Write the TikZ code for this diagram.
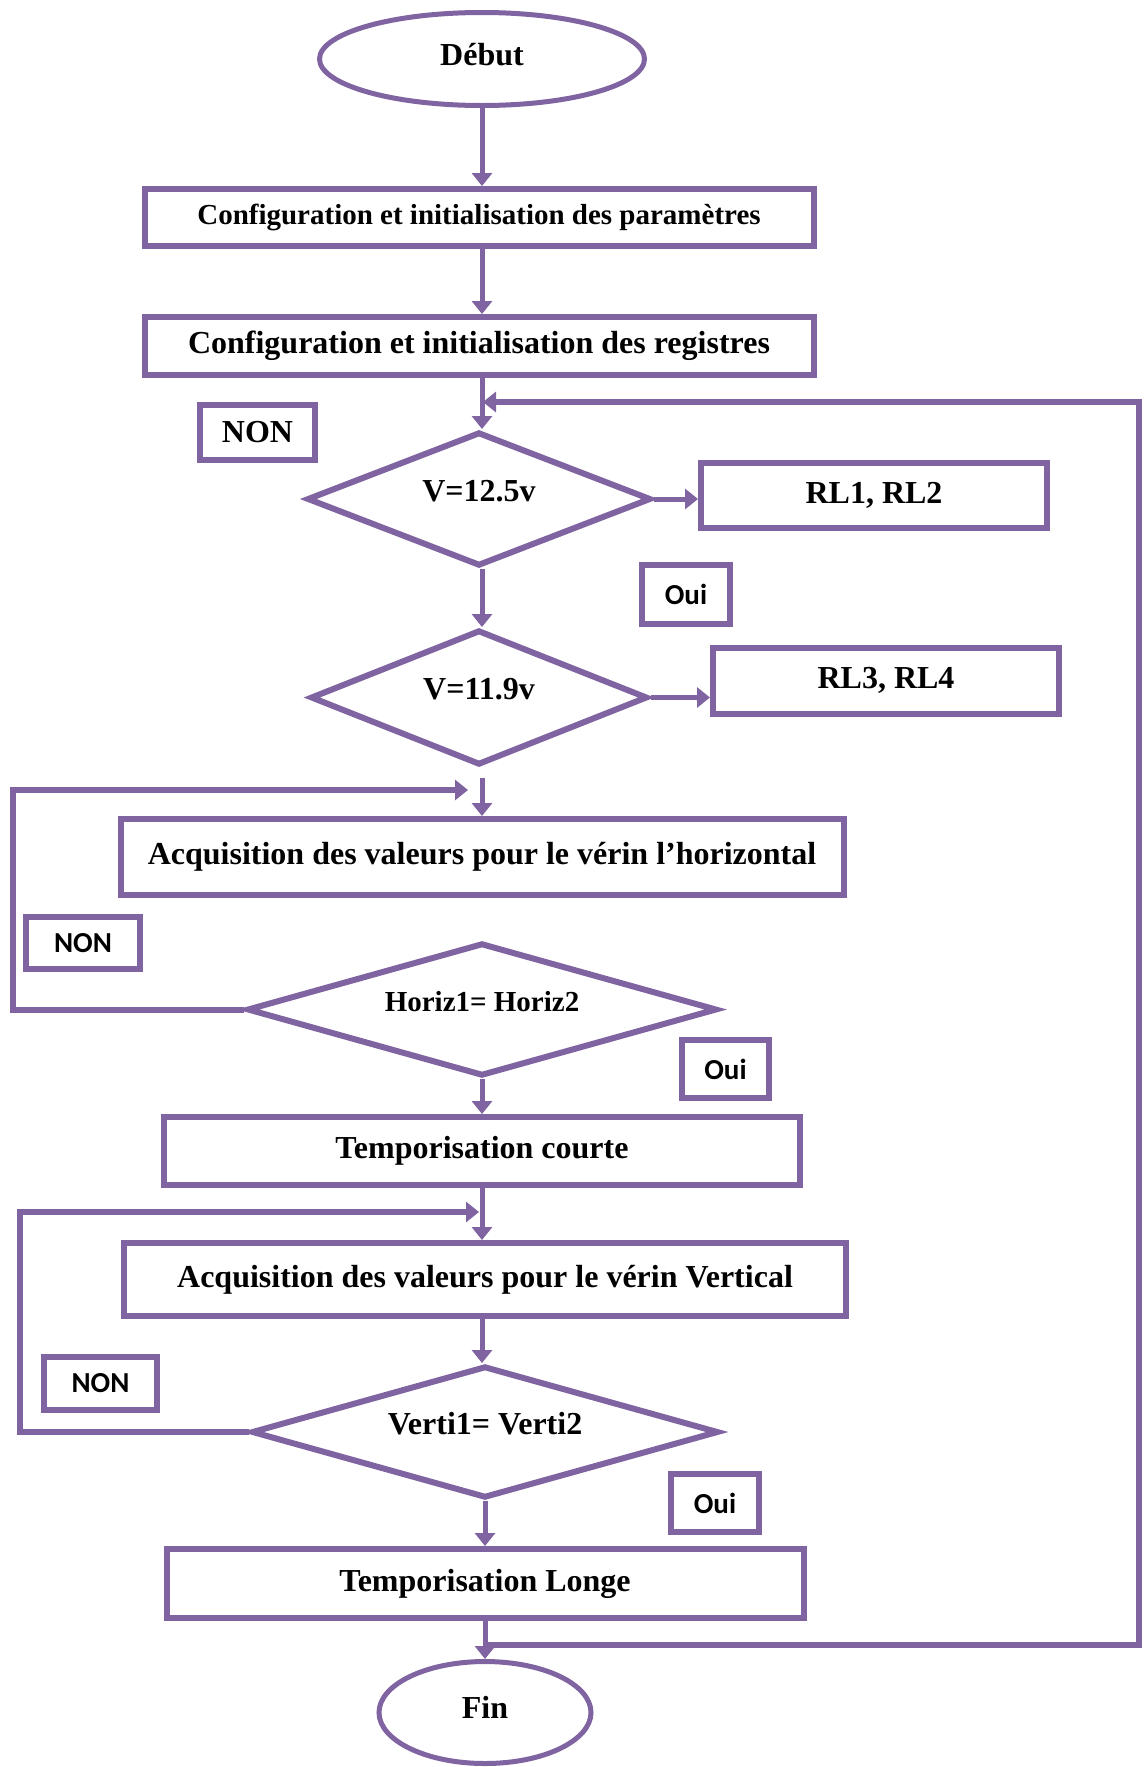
\documentclass[tikz,border=0pt]{standalone}
\usepackage{fontspec}
\setmainfont{Liberation Serif}
\newfontfamily\calibri{Carlito}
\usetikzlibrary{arrows.meta,positioning,shapes.geometric,calc}
\definecolor{FlowPurple}{HTML}{8064A2}

\begin{document}
\begin{tikzpicture}[
    x=1pt, y=1pt,
    box/.style={rectangle, draw=FlowPurple, fill=white, line width=3pt, inner sep=2pt, text centered, font=\fontsize{16}{19}\selectfont\bfseries},
    terminal/.style={ellipse, draw=FlowPurple, fill=white, line width=2.5pt, inner sep=0pt, text height=11pt, text depth=5pt, font=\fontsize{16}{19}\selectfont\bfseries},
    test/.style={diamond, draw=FlowPurple, fill=white, line width=3pt, inner sep=0pt, shape aspect=3, text height=11pt, text depth=9pt, font=\fontsize{16}{19}\selectfont\bfseries},
    tag/.style={rectangle, draw=FlowPurple, fill=white, line width=3pt, inner sep=0pt, font=\calibri\fontsize{14.5}{17}\selectfont\bfseries},
    arrow/.style={-{Triangle[length=6.5pt, width=10pt]}, line width=2.5pt, color=FlowPurple},
    retour/.style={-{Triangle[length=6.5pt, width=10pt]}, line width=3pt, color=FlowPurple}
]
\useasboundingbox (0,0) rectangle (572,-883.5);

% Main column
\node[terminal, minimum width=162.5pt, minimum height=46.5pt] (debut) at (241,-29.5) {Début};
\node[box, minimum width=334.5pt, minimum height=28.5pt, below=39pt of debut, xshift=-1.5pt, font=\fontsize{14.5}{17}\selectfont\bfseries] (param) {Configuration et initialisation des paramètres};
\node[box, minimum width=334.5pt, minimum height=29pt, below=32.5pt of param] (reg) {Configuration et initialisation des registres};
\node[test, minimum width=172pt, minimum height=67pt, below=25.5pt of reg] (v125) {V=12.5v};
\node[test, minimum width=168.5pt, minimum height=67.5pt, below=29pt of v125] (v119) {V=11.9v};
\node[box, minimum width=361.5pt, minimum height=38pt, below=24pt of v119, xshift=1.5pt] (acqh) {Acquisition des valeurs pour le vérin l’horizontal};
\node[test, minimum width=235pt, minimum height=66.5pt, below=21pt of acqh, font=\fontsize{14.5}{17}\selectfont\bfseries] (horiz) {Horiz1= Horiz2};
\node[box, minimum width=318pt, minimum height=34pt, below=17.5pt of horiz] (tempc) {Temporisation courte};
\node[box, minimum width=361pt, minimum height=36.5pt, below=26pt of tempc, xshift=1.5pt] (acqv) {Acquisition des valeurs pour le vérin Vertical};
\node[test, minimum width=233.5pt, minimum height=66pt, below=22pt of acqv] (verti) {Verti1= Verti2};
\node[box, minimum width=318.5pt, minimum height=34.5pt, below=22.5pt of verti] (templ) {Temporisation Longe};
\node[terminal, minimum width=106pt, minimum height=51pt, below=19pt of templ] (fin) {Fin};

% Relay boxes
\node[box, minimum width=173pt, minimum height=32.5pt, right=22pt of v125, yshift=2pt] (rl12) {RL1, RL2};
\node[box, minimum width=173pt, minimum height=33pt, right=29.75pt of v119, yshift=8.5pt] (rl34) {RL3, RL4};

% Answer tags
\node[tag, minimum width=57.5pt, minimum height=27.5pt, font=\fontsize{16}{19}\selectfont\bfseries] (non1) at (128.75,-216.25) {NON};
\node[tag, minimum width=44pt, minimum height=29.5pt] (oui1) at (343,-297.25) {Oui};
\node[tag, minimum width=57pt, minimum height=26pt] (non2) at (41.5,-471.5) {NON};
\node[tag, minimum width=43.5pt, minimum height=29pt] (oui2) at (362.75,-534.5) {Oui};
\node[tag, minimum width=56.5pt, minimum height=26.5pt] (non3) at (50.25,-691.75) {NON};
\node[tag, minimum width=44pt, minimum height=29pt] (oui3) at (357.5,-751.5) {Oui};

% Loop points
\coordinate (bas) at ($(templ.south)+(0,-12)$);
\coordinate (haut) at ($(reg.south)+(2,-12)$);
\coordinate (entreeH) at ($(acqh.north)+(-7,13)$);
\coordinate (entreeV) at ($(acqv.north)+(-3,14)$);
\coordinate (coinR) at (569.5,0);
\coordinate (coinH) at (6.5,0);
\coordinate (coinV) at (10,0);

% Connections
\draw[arrow] (debut) -- (param.north -| debut);
\draw[arrow] (param.south -| debut) -- (reg.north -| debut);
\draw[arrow] (reg.south -| debut) -- (v125.north -| debut);
\draw[arrow] (v125.south -| debut) -- (v119.north -| debut);
\draw[arrow] (v125.east) -- (v125.east -| rl12.west);
\draw[arrow] (v119.east) -- (v119.east -| rl34.west);
\draw[arrow, shorten <=5pt] (v119.south -| debut) -- (acqh.north -| debut);
\draw[arrow] (horiz) -- (tempc);
\draw[arrow] (tempc) -- (acqv.north -| tempc);
\draw[arrow] (acqv.south -| tempc) -- (verti.north -| tempc);
\draw[arrow] (verti) -- (templ);
\draw[arrow] (templ) -- (fin);
\draw[retour] (horiz.west) -| (coinH |- entreeH) -- (entreeH);
\draw[retour] (verti.west) -| (coinV |- entreeV) -- (entreeV);
\draw[retour] (bas) -| (coinR |- haut) -- (haut);

\end{tikzpicture}
\end{document}
